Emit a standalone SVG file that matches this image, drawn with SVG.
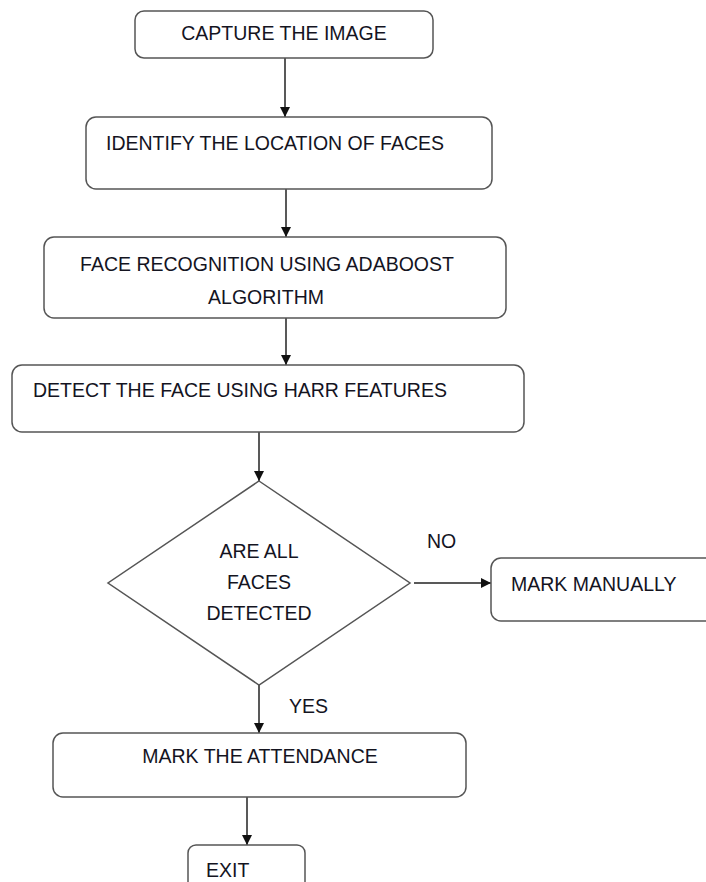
<svg xmlns="http://www.w3.org/2000/svg" width="706" height="882" viewBox="0 0 706 882">
<style>
.box{fill:#fff;stroke:#555;stroke-width:1.5}
.t{font-family:"Liberation Sans",Arial,sans-serif;font-size:19.5px;fill:#14141f}
.c{text-anchor:middle}
.con line{stroke:#222;stroke-width:1.5}
</style>
<defs>
<marker id="ah" viewBox="0 0 10 10" refX="10" refY="5" markerWidth="11" markerHeight="10" markerUnits="userSpaceOnUse" orient="auto">
<path d="M0,0 L10,5 L0,10 z" fill="#111"/>
</marker>
</defs>
<rect width="706" height="882" fill="#fff"/>
<g class="con">
<line x1="285" y1="58" x2="285" y2="117" marker-end="url(#ah)"/>
<line x1="286" y1="189" x2="286" y2="237" marker-end="url(#ah)"/>
<line x1="286" y1="318" x2="286" y2="365" marker-end="url(#ah)"/>
<line x1="259" y1="432" x2="259" y2="481" marker-end="url(#ah)"/>
<line x1="414" y1="583" x2="491" y2="583" marker-end="url(#ah)"/>
<line x1="259" y1="685" x2="259" y2="733" marker-end="url(#ah)"/>
<line x1="247" y1="797" x2="247" y2="845" marker-end="url(#ah)"/>
<text class="t" x="427" y="548">NO</text>
<text class="t" x="289" y="713">YES</text>
</g>
<g id="capture">
<rect class="box" x="135" y="11" width="298" height="47" rx="9"/>
<text class="t c" x="284" y="40">CAPTURE THE IMAGE</text>
</g>
<g id="identify">
<rect class="box" x="86" y="117" width="406" height="72" rx="10"/>
<text class="t" x="106" y="150">IDENTIFY THE LOCATION OF FACES</text>
</g>
<g id="recognition">
<rect class="box" x="44" y="237" width="462" height="81" rx="10"/>
<text class="t c" x="267" y="271">FACE RECOGNITION USING ADABOOST</text>
<text class="t c" x="266" y="304">ALGORITHM</text>
</g>
<g id="detect">
<rect class="box" x="12" y="365" width="512" height="67" rx="10"/>
<text class="t" x="33" y="397">DETECT THE FACE USING HARR FEATURES</text>
</g>
<g id="decision">
<polygon class="box" points="259,481 410,583 259,685 108,583"/>
<text class="t c" x="259" y="558">ARE ALL</text>
<text class="t c" x="259" y="589">FACES</text>
<text class="t c" x="259" y="620">DETECTED</text>
</g>
<g id="manual">
<rect class="box" x="491" y="558" width="230" height="63" rx="10"/>
<text class="t" x="511" y="591">MARK MANUALLY</text>
</g>
<g id="attendance">
<rect class="box" x="53" y="733" width="413" height="64" rx="10"/>
<text class="t c" x="260" y="763">MARK THE ATTENDANCE</text>
</g>
<g id="exit">
<rect class="box" x="188" y="845" width="117" height="50" rx="8"/>
<text class="t" x="206" y="877">EXIT</text>
</g>
</svg>
